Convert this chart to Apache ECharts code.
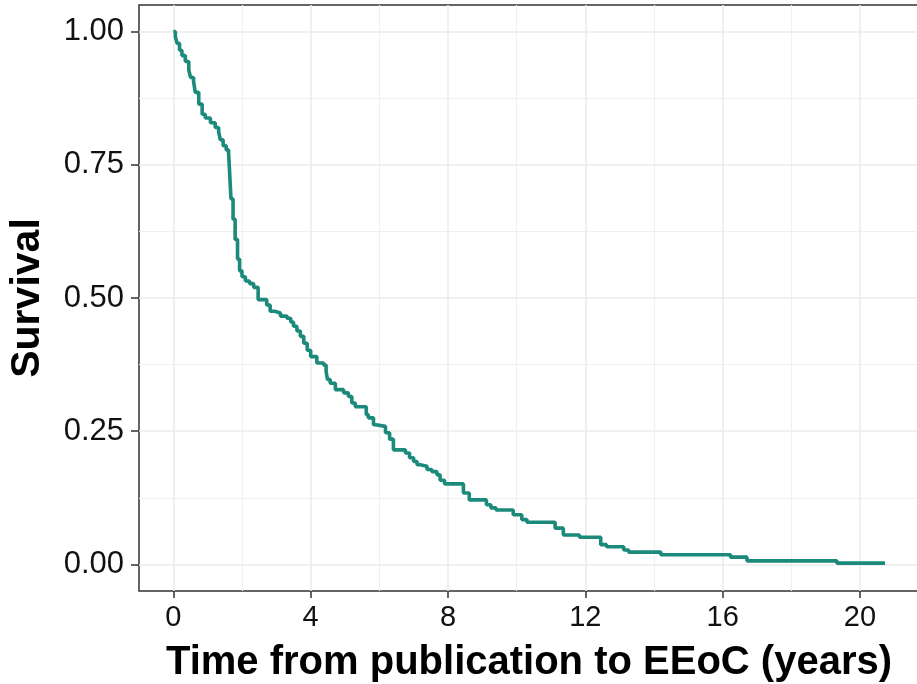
<!DOCTYPE html>
<html>
<head>
<meta charset="utf-8">
<title>Survival</title>
<script src="https://cdn.jsdelivr.net/npm/echarts@6/dist/echarts.min.js"></script>
<style>
  html, body { margin: 0; padding: 0; background: #fff; }
  #chart { width: 917px; height: 684px; }
</style>
</head>
<body>
<div id="chart"></div>
<script>
// Kaplan-Meier estimate (time in years, survival after each step)
const times = [0, 0.06, 0.11, 0.18, 0.25, 0.35, 0.45, 0.50, 0.59, 0.64, 0.74, 0.84, 0.93, 1.08, 1.22, 1.32,
  1.37, 1.45, 1.54, 1.61, 1.64, 1.68, 1.74, 1.80, 1.87, 1.93, 2.00, 2.10, 2.22, 2.34, 2.47, 2.72, 2.82,
  2.95, 3.12, 3.31, 3.42, 3.50, 3.60, 3.70, 3.80, 3.90, 4.00, 4.18, 4.38, 4.45, 4.49, 4.57, 4.72, 4.96,
  5.10, 5.20, 5.30, 5.62, 5.68, 5.83, 5.90, 6.18, 6.30, 6.41, 6.76, 6.88, 7.00, 7.10, 7.19, 7.39, 7.53,
  7.68, 7.77, 7.90, 8.45, 8.62, 9.12, 9.25, 9.40, 9.90, 10.15, 10.30, 11.12, 11.36, 11.83, 12.45, 12.62,
  13.12, 13.26, 14.20, 16.23, 16.71, 19.33, 20.73];
const survival = [1.0, 0.99, 0.978, 0.965, 0.955, 0.944, 0.928, 0.914, 0.906, 0.886, 0.864, 0.845, 0.838,
  0.829, 0.82, 0.812, 0.797, 0.786, 0.778, 0.772, 0.735, 0.686, 0.648, 0.61, 0.573, 0.551, 0.54, 0.532,
  0.527, 0.52, 0.497, 0.487, 0.475, 0.472, 0.466, 0.462, 0.455, 0.447, 0.438, 0.428, 0.415, 0.402, 0.39,
  0.378, 0.374, 0.362, 0.347, 0.34, 0.328, 0.322, 0.315, 0.303, 0.296, 0.281, 0.275, 0.262, 0.259, 0.247,
  0.235, 0.215, 0.209, 0.2, 0.193, 0.187, 0.184, 0.178, 0.174, 0.168, 0.158, 0.151, 0.134, 0.121, 0.112,
  0.106, 0.102, 0.093, 0.084, 0.079, 0.068, 0.055, 0.051, 0.037, 0.033, 0.027, 0.023, 0.018, 0.0135,
  0.0066, 0.0023, 0.0023];

const xMajor = [0, 4, 8, 12, 16, 20];
const xMinor = [2, 6, 10, 14, 18];
const yMajor = [0, 0.25, 0.5, 0.75, 1];
const yMinor = [0.125, 0.375, 0.625, 0.875];

const font = 'Liberation Sans, Arial, Helvetica, sans-serif';

let myChart = echarts.init(document.getElementById('chart'), null, { renderer: 'canvas' });

let option = {
  animation: false,
  backgroundColor: '#fff',
  grid: {
    left: 139, top: 5, width: 780, height: 586,
    outerBoundsMode: 'none', containLabel: false,
    show: true, borderColor: '#333', borderWidth: 1.5, backgroundColor: 'transparent'
  },
  xAxis: [{
    type: 'value', min: -1.0, max: 21.72,
    name: 'Time from publication to EEoC (years)',
    nameLocation: 'middle', nameGap: 52,
    nameTextStyle: { fontFamily: font, fontSize: 40, fontWeight: 'bold', color: '#000' },
    axisLine: { show: false, onZero: false },
    axisTick: { show: true, inside: false, length: 7, customValues: xMajor, lineStyle: { color: '#333', width: 1.5 } },
    axisLabel: { customValues: xMajor, margin: 12, fontFamily: font, fontSize: 29, color: '#111' },
    splitLine: { show: true, lineStyle: { color: '#ebebeb', width: 1.6 } }
  }, {
    type: 'value', min: -1.0, max: 21.72, position: 'bottom',
    axisLine: { show: false, onZero: false },
    axisTick: { show: false, customValues: xMinor },
    axisLabel: { show: false, customValues: xMinor },
    splitLine: { show: true, lineStyle: { color: '#f0f0f0', width: 1.2 } }
  }],
  yAxis: [{
    type: 'value', min: -0.05, max: 1.05,
    name: 'Survival',
    nameLocation: 'middle', nameGap: 91,
    nameTextStyle: { fontFamily: font, fontSize: 41, fontWeight: 'bold', color: '#000' },
    axisLine: { show: false, onZero: false },
    axisTick: { show: true, inside: false, length: 8, customValues: yMajor, lineStyle: { color: '#333', width: 1.5 } },
    axisLabel: {
      customValues: yMajor, margin: 15, fontFamily: font, fontSize: 31, color: '#111',
      formatter: function (v) { return v.toFixed(2); }
    },
    splitLine: { show: true, lineStyle: { color: '#ebebeb', width: 1.6 } }
  }, {
    type: 'value', min: -0.05, max: 1.05, position: 'left',
    axisLine: { show: false, onZero: false },
    axisTick: { show: false, customValues: yMinor },
    axisLabel: { show: false, customValues: yMinor },
    splitLine: { show: true, lineStyle: { color: '#f0f0f0', width: 1.2 } }
  }],
  series: [{
    type: 'line',
    step: 'end',
    showSymbol: false,
    xAxisIndex: 0, yAxisIndex: 0,
    lineStyle: { color: '#1b8a7a', width: 3.6 },
    data: times.map(function (t, i) { return [t, survival[i]]; })
  }]
};

myChart.setOption(option);
</script>
</body>
</html>
